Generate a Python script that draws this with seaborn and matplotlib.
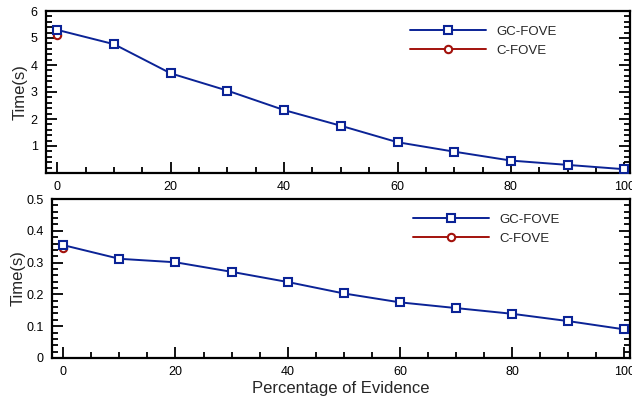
import matplotlib
matplotlib.use("Agg")
import matplotlib.pyplot as plt
from matplotlib.ticker import MultipleLocator
import seaborn as sns
import pandas as pd

# ---- data ----
evidence = [0, 10, 20, 30, 40, 50, 60, 70, 80, 90, 100]
gc_fove_top = [5.30, 4.77, 3.69, 3.05, 2.33, 1.75, 1.14, 0.79, 0.46, 0.30, 0.14]
c_fove_top_x = [0]
c_fove_top = [5.10]
gc_fove_bottom = [0.355, 0.312, 0.301, 0.271, 0.239, 0.203, 0.175, 0.157, 0.139, 0.116, 0.090]
c_fove_bottom_x = [0]
c_fove_bottom = [0.345]
x_ticks = [0, 20, 40, 60, 80, 100]
top_yticks = [1, 2, 3, 4, 5, 6]
bottom_yticks = [0, 0.1, 0.2, 0.3, 0.4, 0.5]

sns.set_theme(style="ticks")
plt.rcParams['font.family'] = ['Liberation Sans', 'DejaVu Sans']
plt.rcParams['axes.linewidth'] = 1.6

BLUE = "#0b2396"
RED = "#a3120c"

fig = plt.figure(figsize=(6.32, 4.0), dpi=100)
ax1 = fig.add_axes([46/632, 1-173/400, (630-46)/632, (173-11)/400])
ax2 = fig.add_axes([52/632, 1-358/400, (630-52)/632, (358-199)/400])

def draw(ax, gx, gy, cx, cy):
    dg = pd.DataFrame({"x": gx, "y": gy})
    dc = pd.DataFrame({"x": cx, "y": cy})
    sns.lineplot(data=dg, x="x", y="y", ax=ax, color=BLUE, lw=1.4, marker="s",
                 markersize=5.3, markerfacecolor="white", markeredgecolor=BLUE,
                 markeredgewidth=1.5, label="GC-FOVE", zorder=3)
    sns.lineplot(data=dc, x="x", y="y", ax=ax, color=RED, lw=1.4, marker="o",
                 markersize=5.3, markerfacecolor="white", markeredgecolor=RED,
                 markeredgewidth=1.5, label="C-FOVE", zorder=2)

draw(ax1, evidence, gc_fove_top, c_fove_top_x, c_fove_top)
draw(ax2, evidence, gc_fove_bottom, c_fove_bottom_x, c_fove_bottom)

for ax in (ax1, ax2):
    ax.set_xlim(-2, 101)
    ax.set_xticks(x_ticks)
    ax.xaxis.set_minor_locator(MultipleLocator(5))
    ax.tick_params(which="both", direction="in", right=True, top=False,
                   labelsize=9, width=1.3, colors="black", pad=6)
    ax.tick_params(which="major", length=8)
    ax.tick_params(which="minor", length=4)
    ax.set_ylabel("Time(s)", fontsize=12, labelpad=2)
    for s in ax.spines.values():
        s.set_linewidth(1.6)
        s.set_color("black")

ax1.set_ylim(0, 6)
ax1.set_yticks(top_yticks)
ax1.yaxis.set_minor_locator(MultipleLocator(0.2))
ax1.set_xlabel("")

ax2.set_ylim(0, 0.5)
ax2.set_yticks(bottom_yticks)
ax2.set_yticklabels(["0", "0.1", "0.2", "0.3", "0.4", "0.5"])
ax2.yaxis.set_minor_locator(MultipleLocator(0.02))
ax2.set_xlabel("Percentage of Evidence", fontsize=12, labelpad=2)
ax2.yaxis.set_label_coords(-0.045, 0.5)

ax1.legend(loc="upper left", bbox_to_anchor=(0.640, 0.950), bbox_transform=fig.transFigure,
           frameon=False, fontsize=9.5, handlelength=5.8, handletextpad=0.75,
           labelspacing=0.55, borderaxespad=0)
ax2.legend(loc="upper left", bbox_to_anchor=(0.645, 0.480), bbox_transform=fig.transFigure,
           frameon=False, fontsize=9.5, handlelength=5.8, handletextpad=0.75,
           labelspacing=0.55, borderaxespad=0)

fig.savefig("out.png", dpi=100)
